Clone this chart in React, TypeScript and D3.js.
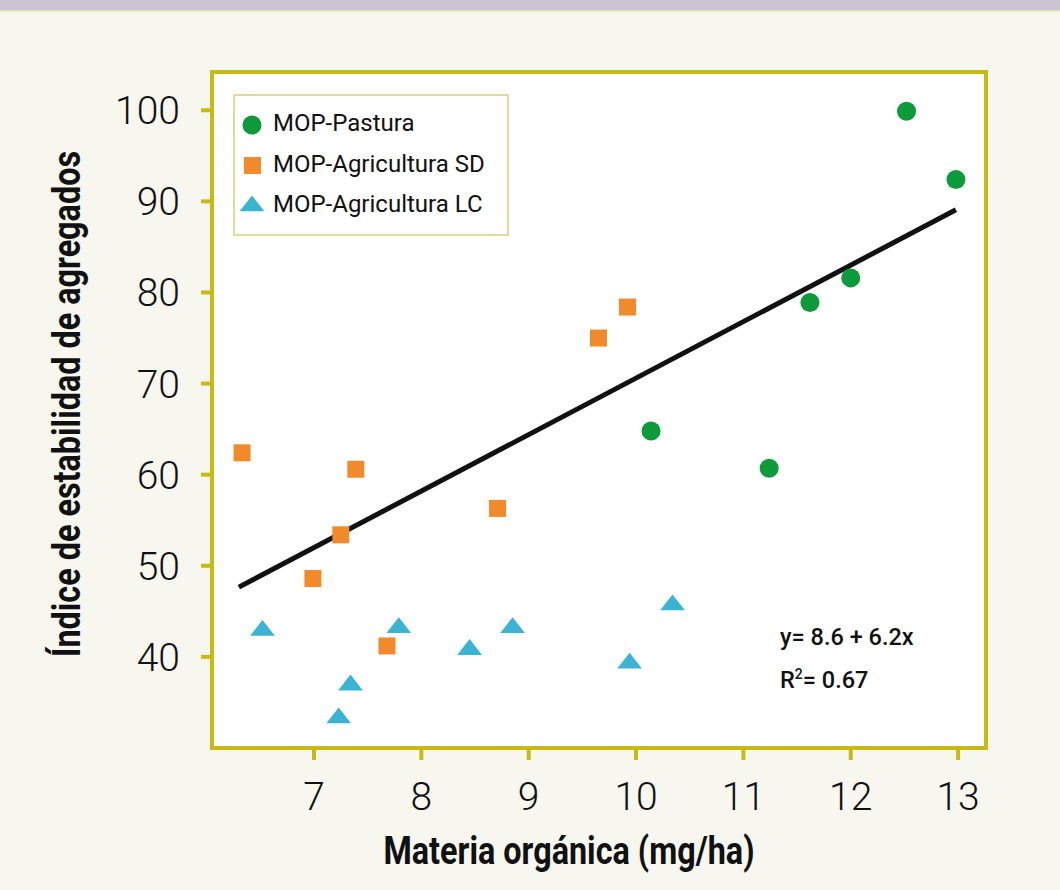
import React, { useEffect, useRef } from 'react';
import * as d3 from 'd3';

// datos
const pastura = [
  { x: 12.52, y: 99.9 },
  { x: 12.98, y: 92.4 },
  { x: 11.62, y: 78.9 },
  { x: 12.0, y: 81.6 },
  { x: 10.14, y: 64.8 },
  { x: 11.24, y: 60.7 },
];

const agriculturaSD = [
  { x: 6.33, y: 62.4 },
  { x: 6.99, y: 48.6 },
  { x: 7.25, y: 53.4 },
  { x: 7.39, y: 60.6 },
  { x: 7.68, y: 41.2 },
  { x: 8.71, y: 56.3 },
  { x: 9.65, y: 75.0 },
  { x: 9.92, y: 78.4 },
];

const agriculturaLC = [
  { x: 6.52, y: 42.9 },
  { x: 7.23, y: 33.3 },
  { x: 7.34, y: 36.9 },
  { x: 7.79, y: 43.2 },
  { x: 8.45, y: 40.8 },
  { x: 8.85, y: 43.2 },
  { x: 9.94, y: 39.3 },
  { x: 10.34, y: 45.7 },
];

const xTicks = [7, 8, 9, 10, 11, 12, 13];
const yTicks = [40, 50, 60, 70, 80, 90, 100];
const regression = { a: 8.6, b: 6.2, from: 6.3, to: 12.98 };

const GREEN = '#0d9a3b';
const ORANGE = '#f18a2a';
const CYAN = '#3bb3d3';
const FRAME = '#c6bb14';

const App = () => {
  const svgRef = useRef<SVGSVGElement>(null);
  const width = 1060;
  const height = 890;

  useEffect(() => {
    const svg = d3.select(svgRef.current);
    svg.selectAll('*').remove();

    const margin = { top: 72, right: 74, bottom: 142, left: 212 };
    const innerWidth = width - margin.left - margin.right;
    const innerHeight = height - margin.top - margin.bottom;

    // fondo
    svg.append('rect').attr('width', width).attr('height', height).attr('fill', '#f7f7ef');
    svg.append('rect').attr('width', width).attr('height', 10).attr('fill', '#c9c4d1');
    svg.append('rect').attr('y', 10).attr('width', width).attr('height', 1.5).attr('fill', '#e6e29a');

    const xScale = d3.scaleLinear().domain([6.05, 13.26]).range([0, innerWidth]);
    const yScale = d3.scaleLinear().domain([30, 104.2]).range([innerHeight, 0]);

    const g = svg.append('g').attr('transform', `translate(${margin.left},${margin.top})`);

    g.append('rect')
      .attr('width', innerWidth)
      .attr('height', innerHeight)
      .attr('fill', '#ffffff')
      .attr('stroke', FRAME)
      .attr('stroke-width', 4);

    // ticks eje y
    g.selectAll('.ytick')
      .data(yTicks)
      .enter()
      .append('line')
      .attr('x1', -11)
      .attr('x2', 0)
      .attr('y1', d => yScale(d))
      .attr('y2', d => yScale(d))
      .attr('stroke', FRAME)
      .attr('stroke-width', 4);

    g.selectAll('.ylabel')
      .data(yTicks)
      .enter()
      .append('text')
      .attr('transform', d => `translate(-32,${yScale(d) + 14})`)
      .attr('text-anchor', 'end')
      .attr('font-family', 'Roboto')
      .attr('font-weight', 300)
      .attr('font-size', 39)
      .attr('fill', '#111')
      .text(d => d);

    // ticks eje x
    g.selectAll('.xtick')
      .data(xTicks)
      .enter()
      .append('line')
      .attr('x1', d => xScale(d))
      .attr('x2', d => xScale(d))
      .attr('y1', innerHeight)
      .attr('y2', innerHeight + 12)
      .attr('stroke', FRAME)
      .attr('stroke-width', 4);

    g.selectAll('.xlabel')
      .data(xTicks)
      .enter()
      .append('text')
      .attr('transform', d => `translate(${xScale(d)},${innerHeight + 62})`)
      .attr('text-anchor', 'middle')
      .attr('font-family', 'Roboto')
      .attr('font-weight', 300)
      .attr('font-size', 39)
      .attr('fill', '#111')
      .text(d => d);

    // títulos
    svg.append('text')
      .attr('transform', `translate(569,864) scale(0.83,1)`)
      .attr('text-anchor', 'middle')
      .attr('font-family', 'Roboto')
      .attr('font-weight', 700)
      .attr('font-size', 39)
      .attr('fill', '#111')
      .text('Materia orgánica (mg/ha)');

    svg.append('text')
      .attr('transform', `translate(80,404) rotate(-90) scale(0.83,1)`)
      .attr('text-anchor', 'middle')
      .attr('font-family', 'Roboto')
      .attr('font-weight', 700)
      .attr('font-size', 39)
      .attr('fill', '#111')
      .text('Índice de estabilidad de agregados');

    // recta de regresión
    const line = d3.line<number>()
      .x(d => xScale(d))
      .y(d => yScale(regression.a + regression.b * d));
    g.append('path')
      .attr('d', line([regression.from, regression.to]))
      .attr('stroke', '#111')
      .attr('stroke-width', 5)
      .attr('fill', 'none');

    // puntos
    const tri = d3.symbol().type(d3.symbolTriangle).size(200);

    g.selectAll('.lc')
      .data(agriculturaLC)
      .enter()
      .append('path')
      .attr('d', tri())
      .attr('transform', d => `translate(${xScale(d.x)},${yScale(d.y)}) scale(1.15,0.85)`)
      .attr('fill', CYAN);

    g.selectAll('.sd')
      .data(agriculturaSD)
      .enter()
      .append('rect')
      .attr('x', d => xScale(d.x) - 8.5)
      .attr('y', d => yScale(d.y) - 8.5)
      .attr('width', 17)
      .attr('height', 17)
      .attr('fill', ORANGE);

    g.selectAll('.pa')
      .data(pastura)
      .enter()
      .append('circle')
      .attr('cx', d => xScale(d.x))
      .attr('cy', d => yScale(d.y))
      .attr('r', 9.5)
      .attr('fill', GREEN);

    // leyenda
    const legend = svg.append('g').attr('transform', 'translate(234,95)');
    legend.append('rect')
      .attr('width', 274)
      .attr('height', 140)
      .attr('fill', '#ffffff')
      .attr('stroke', '#d6d07a')
      .attr('stroke-width', 1.5);

    const items = [
      { label: 'MOP-Pastura', shape: 'circle', color: GREEN },
      { label: 'MOP-Agricultura SD', shape: 'square', color: ORANGE },
      { label: 'MOP-Agricultura LC', shape: 'triangle', color: CYAN },
    ];
    items.forEach((it, i) => {
      const cy = 30 + i * 40.5;
      if (it.shape === 'circle') {
        legend.append('circle').attr('cx', 18).attr('cy', cy).attr('r', 9.5).attr('fill', it.color);
      } else if (it.shape === 'square') {
        legend.append('rect').attr('x', 10).attr('y', cy - 8.5).attr('width', 17).attr('height', 17).attr('fill', it.color);
      } else {
        legend.append('path')
          .attr('d', tri())
          .attr('transform', `translate(18,${cy}) scale(1.15,0.85)`)
          .attr('fill', it.color);
      }
      legend.append('text')
        .attr('x', 39)
        .attr('y', cy + 6)
        .attr('font-family', 'Roboto')
        .attr('font-weight', 400)
        .attr('font-size', 24)
        .attr('fill', '#111')
        .text(it.label);
    });

    // ecuación
    svg.append('text')
      .attr('x', 780)
      .attr('y', 645)
      .attr('font-family', 'Roboto')
      .attr('font-weight', 500)
      .attr('font-size', 23.5)
      .attr('fill', '#111')
      .text('y= 8.6 + 6.2x');

    const r2 = svg.append('text')
      .attr('x', 780)
      .attr('y', 688)
      .attr('font-family', 'Roboto')
      .attr('font-weight', 500)
      .attr('font-size', 23.5)
      .attr('fill', '#111');
    r2.append('tspan').text('R');
    r2.append('tspan').attr('font-size', 14).attr('dy', -9).text('2');
    r2.append('tspan').attr('dy', 9).text('= 0.67');
  }, []);

  return <svg ref={svgRef} width={width} height={height} style={{ display: 'block', position: 'absolute', left: 0, top: 0 }}></svg>;
};

export default App;
